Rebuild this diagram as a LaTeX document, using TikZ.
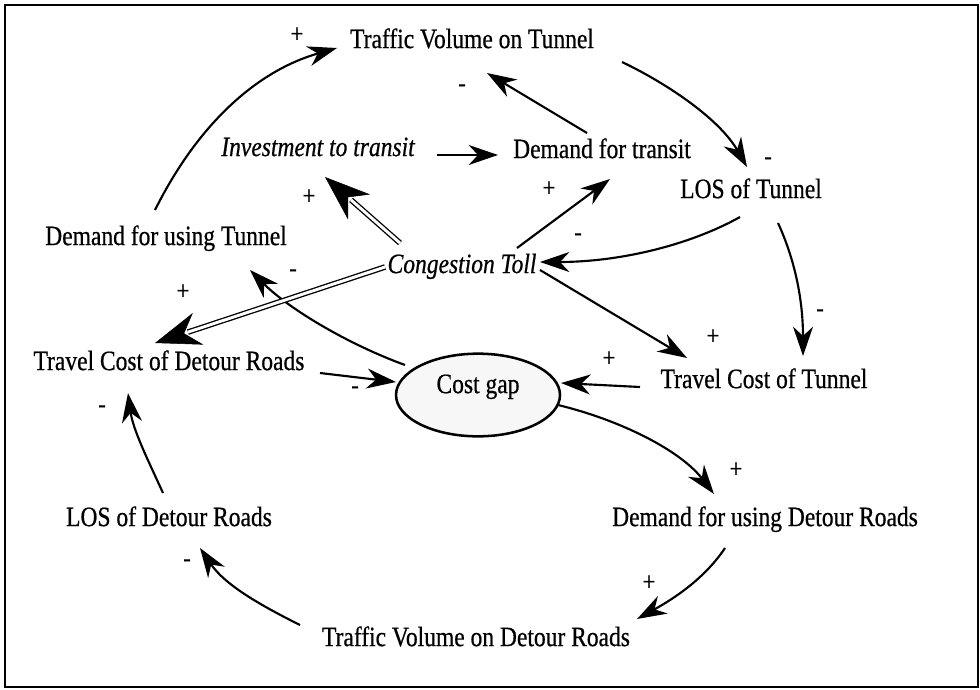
\documentclass[tikz,border=0pt]{standalone}
\usepackage{fontspec}
\setmainfont{Liberation Serif}[FakeStretch=0.84,FakeBold=0.6]
\usetikzlibrary{arrows.meta,shapes.geometric}
\begin{document}
\begin{tikzpicture}[x=0.75pt,y=-0.75pt,
  lbl/.style={font=\fontsize{21}{24}\selectfont, inner sep=0pt, text height=0.66em, text depth=0.2em},
  ilbl/.style={lbl, font=\fontsize{21}{24}\selectfont\itshape},
  sgn/.style={font=\fontsize{20}{22}\selectfont, inner sep=0pt},
  conn/.style={line width=1.6pt, -{Stealth[length=22pt,width=15pt,inset=7pt]}},
  dbl/.style={double, line width=1pt, double distance=2.2pt, shorten >=26pt},
  bighead/.style={white, line width=0.4pt, -{Stealth[black,length=34pt,width=25pt,inset=11pt]}},
  gapnode/.style={ellipse, draw, line width=1.9pt, fill=black!3, minimum width=123pt, minimum height=62pt, inner sep=0pt}
]
\useasboundingbox (0,0) rectangle (980,689);
\draw[line width=1.1pt] (5,5) rectangle (978,687);

% nodes
\node[lbl] (tv) at (472,45) {Traffic Volume on Tunnel};
\node[ilbl] (inv) at (318,153) {Investment to transit};
\node[lbl] (dt) at (602,155) {Demand for transit};
\node[lbl] (lost) at (751,195) {LOS of Tunnel};
\node[lbl] (dut) at (166,242) {Demand for using Tunnel};
\node[ilbl] (ct) at (462,270) {Congestion Toll};
\node[lbl] (tcd) at (169,367) {Travel Cost of Detour Roads};
\node[gapnode] (gap) at (478,395) {};
\node[lbl] (gaptxt) at (478,390) {Cost gap};
\node[lbl] (tct) at (764,385) {Travel Cost of Tunnel};
\node[lbl] (losd) at (169,523) {LOS of Detour Roads};
\node[lbl] (ddr) at (765,523) {Demand for using Detour Roads};
\node[lbl] (tvd) at (476,643) {Traffic Volume on Detour Roads};

% sign labels
\node[sgn] (s1) at (297,35) {+};
\node[sgn] (s2) at (768,161) {-};
\node[sgn] (s3) at (462,88) {-};
\node[sgn] (s5) at (309,197) {+};
\node[sgn] (s6) at (549,189) {+};
\node[sgn] (s7) at (578,237) {-};
\node[sgn] (s8) at (713,337) {+};
\node[sgn] (s9) at (820,313) {-};
\node[sgn] (s10) at (183,292) {+};
\node[sgn] (s11) at (293,273) {-};
\node[sgn] (s12) at (355,390) {-};
\node[sgn] (s13) at (609,359) {+};
\node[sgn] (s14) at (736,470) {+};
\node[sgn] (s15) at (649,583) {+};
\node[sgn] (s16) at (187,563) {-};
\node[sgn] (s17) at (102,409) {-};

% connectors
\draw[conn] ([shift={(-11,-32)}]dut.center) .. controls +(45,-90) and +(-77,22) .. ([shift={(-135,3)}]tv.center);
\draw[conn] ([shift={(150,17)}]tv.center) .. controls +(48,23) and +(-27,-47) .. ([shift={(-4,-28)}]lost.center);
\draw[conn] ([shift={(-15,-22)}]dt.center) -- ([shift={(15,28)}]tv.center);
\draw[conn] ([shift={(119,2)}]inv.center) -- ([shift={(-104,0)}]dt.center);
\draw[conn] ([shift={(55,-22)}]ct.center) -- ([shift={(8,24)}]dt.center);
\draw[conn] ([shift={(-11,22)}]lost.center) .. controls +(-50,28) and +(80,0) .. ([shift={(78,-8)}]ct.center);
\draw[conn] ([shift={(78,0)}]ct.center) -- ([shift={(-77,-27)}]tct.center);
\draw[conn] ([shift={(27,28)}]lost.center) .. controls +(17,37) and +(0,-56) .. ([shift={(39,-29)}]tct.center);
\draw[conn] ([shift={(-73,-30)}]gap.center) .. controls +(-55,-20) and +(40,40) .. ([shift={(84,28)}]dut.center);
\draw[conn] ([shift={(151,6)}]tcd.center) -- ([shift={(-82,-13)}]gap.center);
\draw[conn] ([shift={(-124,2)}]tct.center) -- ([shift={(83,-12)}]gap.center);
\draw[conn] ([shift={(80,10)}]gap.center) .. controls +(62,15) and +(-34,-44) .. ([shift={(-51,-29)}]ddr.center);
\draw[conn] ([shift={(-40,25)}]ddr.center) .. controls +(-20,30) and +(38,-21) .. ([shift={(161,-24)}]tvd.center);
\draw[conn] ([shift={(-176,-18)}]tvd.center) .. controls +(-40,-20) and +(25,37) .. ([shift={(31,25)}]losd.center);
\draw[conn] ([shift={(-6,-30)}]losd.center) .. controls +(-15,-33) and +(5,37) .. ([shift={(-41,26)}]tcd.center);

% double-line connectors
\draw[dbl] ([shift={(-62,-27)}]ct.center) -- ([shift={(7,24)}]inv.center);
\draw[bighead] ([shift={(-62,-27)}]ct.center) -- ([shift={(7,24)}]inv.center);
\draw[dbl] ([shift={(-77,-3)}]ct.center) -- ([shift={(-14,-24)}]tcd.center);
\draw[bighead] ([shift={(-77,-3)}]ct.center) -- ([shift={(-14,-24)}]tcd.center);
\end{tikzpicture}
\end{document}
